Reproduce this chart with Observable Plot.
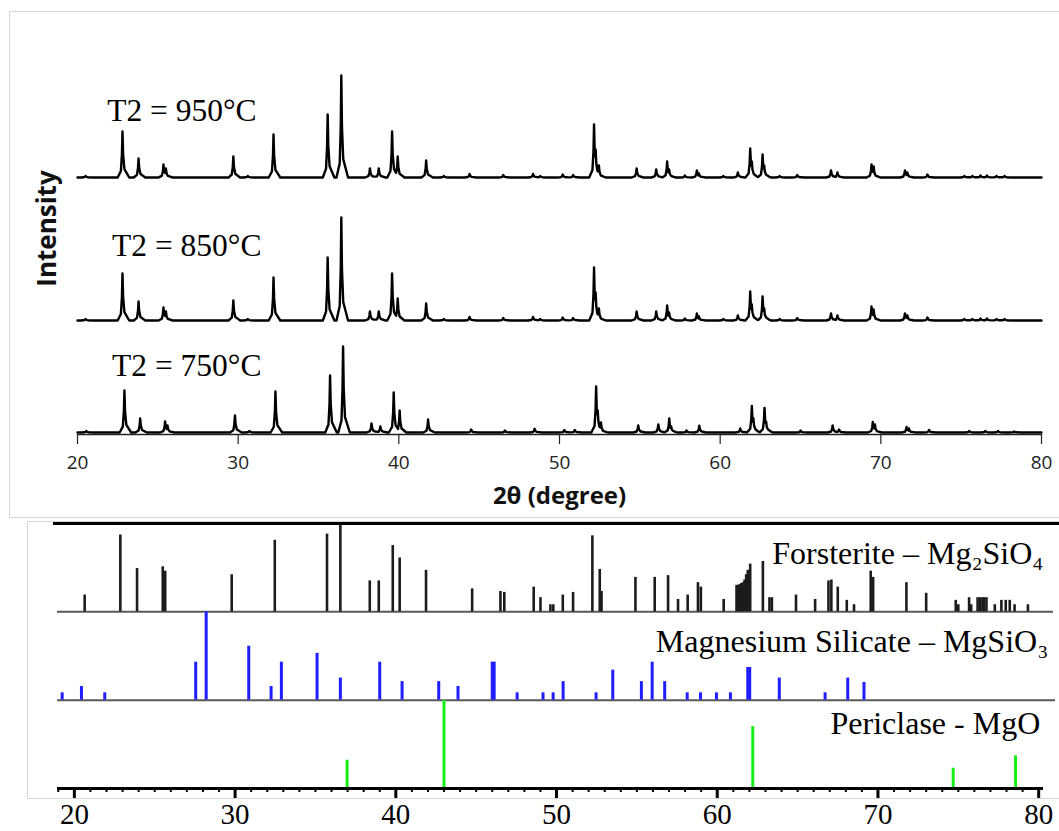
<!DOCTYPE html>
<html><head><meta charset="utf-8">
<script src="https://cdn.jsdelivr.net/npm/d3@7"></script>
<script src="https://cdn.jsdelivr.net/npm/@observablehq/plot@0.6"></script>
<style>
html,body{margin:0;padding:0;background:#fff;overflow:hidden;}
#wrap{position:relative;width:1059px;height:831px;overflow:hidden;background:#fff;}
.frame{position:absolute;border:1px solid #d6d6d6;}
#top,#bottom{position:absolute;left:0;}
#top{top:0px}
#bottom{top:520px}
svg{overflow:visible;}
</style></head><body>
<div id="wrap">
  <div class="frame" style="left:9px;top:11px;width:1080px;height:505px"></div>
  <div class="frame" style="left:27px;top:521px;width:1060px;height:276px"></div>
  <div id="top"></div>
  <div id="bottom"></div>
</div>
<script>
// ---------- DATA ----------
const traceNames = ["T2 = 950°C", "T2 = 850°C", "T2 = 750°C"];
const traceOffsets = [257, 114, 2];

const pos950 = [20.5, 22.8, 23.8, 25.35, 25.5, 29.7, 30.6, 32.2, 35.57, 36.42, 38.2, 38.75, 39.58, 39.93, 41.7, 42.8, 44.4, 46.5, 48.35, 48.8, 50.2, 50.85, 52.15, 52.25, 52.45, 54.8, 56.02, 56.7, 56.82, 57.8, 58.55, 58.68, 60.2, 61.1, 61.87, 61.97, 62.64, 62.74, 63.7, 64.8, 66.9, 67.3, 69.42, 69.55, 71.5, 71.65, 72.9, 75.2, 75.7, 76.2, 76.6, 77.2, 77.7];
const h950   = [1.5, 46, 19, 13, 9, 21, 1.5, 43, 63, 102, 9, 9, 46, 21, 17, 1.5, 3.5, 2.5, 3.5, 1.5, 3, 2.5, 53, 28, 12, 9, 8, 16, 8, 2, 7, 4, 1.5, 5, 29, 16, 23, 12, 1.5, 2.5, 7, 5, 13, 11, 7, 5, 3, 1.5, 1.5, 2, 2, 1.5, 1.5];
const h850   = [1.5, 47, 19, 13, 9, 20, 1.5, 43, 63, 103, 9, 9, 47, 22, 17, 1.5, 3.5, 2.5, 3.5, 1.5, 3, 2.5, 53, 28, 12, 9, 9, 15, 8, 2, 7, 4, 1.5, 5, 29, 16, 24, 12, 1.5, 2.5, 7, 5, 14, 11, 7, 5, 3, 1.5, 1.5, 2, 2, 1.5, 1.5];
const pos750 = [20.55, 22.92, 23.9, 25.45, 25.6, 29.8, 30.7, 32.32, 35.72, 36.53, 38.3, 38.85, 39.68, 40.05, 41.82, 44.5, 46.6, 48.45, 50.3, 50.95, 52.28, 52.38, 52.58, 54.9, 56.15, 56.83, 56.95, 57.9, 58.7, 61.25, 61.97, 62.07, 62.76, 62.86, 65.0, 67.0, 67.4, 69.5, 69.63, 71.6, 71.75, 73.0, 75.5, 76.5, 77.3, 78.3];
const h750   = [1.5, 42, 14, 11, 7, 17, 1.5, 41, 57, 86, 9, 6, 40, 22, 13, 3, 2, 3.7, 2.5, 2.5, 46, 22, 10, 7, 8, 14, 6, 2, 6.7, 4, 26.6, 14, 24.6, 11, 2, 7, 3, 10.6, 8, 5.6, 4, 2.6, 1.5, 1.5, 1.5, 1];

const topTicks = [20, 30, 40, 50, 60, 70, 80];

const forsteritePos = [20.64, 22.86, 23.9, 25.5, 25.65, 29.79, 32.47, 35.72, 36.55, 38.38, 38.94, 39.81, 40.24, 41.88, 44.75, 46.51, 46.75, 48.58, 49.0, 49.62, 49.8, 50.39, 51.03, 52.23, 52.69, 52.8, 54.91, 56.11, 56.94, 57.56, 58.16, 58.8, 58.98, 60.4, 61.2, 61.3, 61.4, 61.5, 61.6, 61.7, 61.8, 61.9, 62.05, 62.84, 63.25, 63.4, 64.9, 66.09, 66.92, 67.1, 67.5, 68.06, 68.51, 69.55, 69.7, 71.77, 73.0, 74.84, 75.0, 75.67, 75.8, 76.2, 76.35, 76.5, 76.6, 76.75, 77.27, 77.68, 77.95, 78.2, 78.5, 79.33];
const forsteriteH   = [0.19, 0.87, 0.49, 0.51, 0.46, 0.42, 0.81, 0.88, 1.0, 0.35, 0.35, 0.75, 0.61, 0.47, 0.26, 0.23, 0.22, 0.28, 0.16, 0.08, 0.08, 0.19, 0.22, 0.86, 0.48, 0.23, 0.39, 0.39, 0.41, 0.14, 0.19, 0.33, 0.28, 0.14, 0.30, 0.30, 0.31, 0.32, 0.33, 0.36, 0.42, 0.47, 0.54, 0.57, 0.16, 0.16, 0.19, 0.14, 0.35, 0.36, 0.28, 0.13, 0.08, 0.46, 0.39, 0.33, 0.21, 0.13, 0.08, 0.16, 0.08, 0.16, 0.16, 0.16, 0.16, 0.16, 0.08, 0.13, 0.13, 0.13, 0.08, 0.08];

const mgsio3Pos = [19.24, 20.44, 21.89, 27.55, 28.2, 30.85, 32.24, 32.88, 35.1, 36.55, 39.0, 40.39, 42.67, 43.87, 46.0, 46.12, 47.55, 49.16, 49.79, 50.41, 52.46, 53.5, 55.28, 55.95, 56.73, 58.13, 58.96, 59.95, 60.82, 61.9, 62.02, 63.86, 66.71, 68.12, 69.13];
const mgsio3H   = [0.083, 0.155, 0.083, 0.43, 1.0, 0.61, 0.155, 0.43, 0.53, 0.25, 0.43, 0.21, 0.21, 0.155, 0.43, 0.43, 0.083, 0.083, 0.083, 0.21, 0.083, 0.34, 0.21, 0.43, 0.21, 0.083, 0.083, 0.083, 0.083, 0.37, 0.37, 0.25, 0.083, 0.25, 0.2];

const mgoPos = [36.97, 43.0, 62.21, 74.68, 78.56];
const mgoH   = [0.32, 1.0, 0.70, 0.23, 0.37];

const phaseNames = ["Forsterite – Mg₂SiO₄", "Magnesium Silicate – MgSiO₃", "Periclase - MgO"];
const bottomMajorTicks = [20, 30, 40, 50, 60, 70, 80];
const bottomMinorTicks = d3.range(19, 81).filter(v => v % 10 !== 0);

// ---------- BUILD TABLES ----------
const shape = [[-0.3,0],[-0.1,0.14],[-0.035,0.5],[0,1],[0.04,0.5],[0.12,0.18],[0.42,0]];
function profile(pos, h, offset, name) {
  const xs = [20, 80];
  pos.forEach(p => shape.forEach(([dx]) => xs.push(+(p + dx).toFixed(3))));
  xs.sort((a, b) => a - b);
  const uniq = xs.filter((v, i) => (i === 0 || v !== xs[i - 1]) && v >= 20 && v <= 80);
  return uniq.map(x => {
    let m = 0;
    pos.forEach((p, i) => {
      const dx = x - p;
      for (let k = 0; k < shape.length - 1; k++) {
        const [a, fa] = shape[k], [b, fb] = shape[k + 1];
        if (dx >= a && dx <= b) {
          const v = (fa + (fb - fa) * (dx - a) / (b - a)) * h[i];
          if (v > m) m = v;
          break;
        }
      }
    });
    return {name, x, y: offset + m};
  });
}
const traces = [
  ...profile(pos950, h950, traceOffsets[0], traceNames[0]),
  ...profile(pos950, h850, traceOffsets[1], traceNames[1]),
  ...profile(pos750, h750, traceOffsets[2], traceNames[2])
];
const traceLabels = traceNames.map((t, i) => ({t, x: [21.85, 22.15, 22.15][i], y: [324, 189, 69][i]}));

const serif = "'Liberation Serif', 'Times New Roman', 'DejaVu Serif', serif";
const sans = "'Open Sans', 'Liberation Sans', sans-serif";

const topPlot = Plot.plot({
  width: 1059, height: 520,
  marginLeft: 77, marginRight: 18, marginTop: 74, marginBottom: 86,
  style: {fontFamily: sans, background: "transparent", color: "#222", overflow: "visible"},
  x: {domain: [20, 80]},
  y: {domain: [0, 360], axis: null},
  marks: [
    Plot.line(traces, {x: "x", y: "y", z: "name", stroke: "#000", strokeWidth: 2.4, strokeLinejoin: "round"}),
    Plot.ruleY([0], {stroke: "#222", strokeWidth: 1.5}),
    Plot.axisX({ticks: topTicks, tickSize: 10, tickPadding: 11, fontSize: 19, label: null, stroke: "#222", strokeWidth: 1.2}),
    Plot.text(traceLabels, {x: "x", y: "y", text: "t", textAnchor: "start", fontFamily: serif, fontSize: 31.5, fill: "#000"}),
    Plot.text(["2θ (degree)"], {x: 50, y: -62, text: d => d, fontWeight: "bold", fontSize: 24, fill: "#111"}),
    Plot.text(["Intensity"], {x: 18.13, y: 206, text: d => d, rotate: -90, fontWeight: "bold", fontSize: 26, fill: "#111"})
  ]
});
document.getElementById("top").appendChild(topPlot);

const fors = forsteritePos.map((p, i) => ({p, h: forsteriteH[i]}));
const mgs = mgsio3Pos.map((p, i) => ({p, h: mgsio3H[i]}));
const mgo = mgoPos.map((p, i) => ({p, h: mgoH[i]}));
const phaseLabels = phaseNames.map((t, i) => ({t, x: [80.3, 80.6, 80.1][i], y: [2.66, 1.66, 0.73][i]}));

const bottomPlot = Plot.plot({
  width: 1059, height: 311,
  marginLeft: 57, marginRight: 16, marginTop: 3, marginBottom: 43,
  style: {fontFamily: serif, background: "transparent", color: "#000", overflow: "visible"},
  x: {domain: [18.95, 80.3]},
  y: {domain: [0, 3], axis: null},
  marks: [
    Plot.ruleY([2], {stroke: "#5a5a5a", strokeWidth: 2, insetRight: -10}),
    Plot.ruleY([1], {stroke: "#5a5a5a", strokeWidth: 2, insetRight: -12}),
    Plot.ruleX(fors, {x: "p", y1: 2, y2: d => 2 + d.h, stroke: "#1c1c1c", strokeWidth: 2.6}),
    Plot.ruleX(mgs, {x: "p", y1: 1, y2: d => 1 + d.h, stroke: "#1e1eff", strokeWidth: 3}),
    Plot.ruleX(mgo, {x: "p", y1: 0, y2: d => d.h, stroke: "#19ee19", strokeWidth: 3}),
    Plot.ruleY([3], {stroke: "#000", strokeWidth: 3, insetLeft: -4, insetRight: -20}),
    Plot.ruleY([0], {stroke: "#000", strokeWidth: 3}),
    Plot.axisX({ticks: bottomMinorTicks, tickSize: 4, tickFormat: () => "", label: null, stroke: "#000", strokeWidth: 2}),
    Plot.axisX({ticks: bottomMajorTicks, tickSize: 10, tickPadding: 5, fontSize: 29, label: null, stroke: "#000", strokeWidth: 3, fill: "#000"}),
    Plot.text(phaseLabels, {x: "x", y: "y", text: "t", textAnchor: "end", fontFamily: serif, fontSize: 32, fill: "#000"})
  ]
});
document.getElementById("bottom").appendChild(bottomPlot);
</script>
</body></html>
